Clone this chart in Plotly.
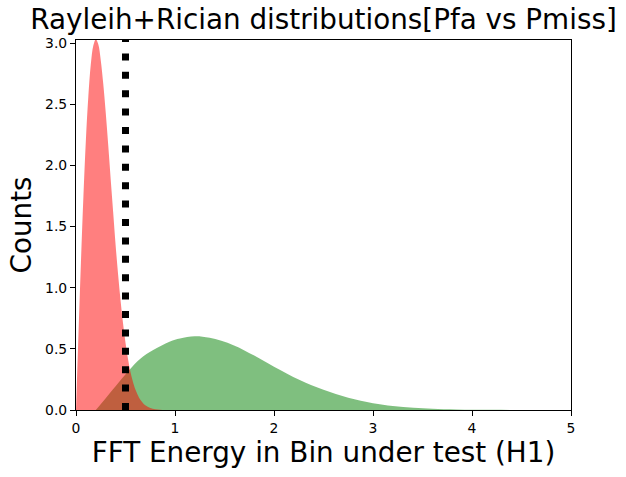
import plotly.graph_objects as go

# Rayleigh (H0) readings
rayleigh_x = [0.0, 0.025, 0.05, 0.075, 0.1, 0.125, 0.15, 0.175, 0.2, 0.225, 0.25, 0.275,
              0.3, 0.325, 0.35, 0.375, 0.4, 0.425, 0.45, 0.475, 0.5, 0.525, 0.55, 0.575,
              0.6, 0.65, 0.7, 0.75, 0.8, 0.85, 0.9, 1.0]
rayleigh_y = [0.0, 0.62, 1.21, 1.75, 2.21, 2.57, 2.83, 2.98, 3.03, 2.99, 2.86, 2.67,
              2.435, 2.17, 1.89, 1.62, 1.35, 1.11, 0.895, 0.71, 0.55, 0.42, 0.31, 0.23,
              0.167, 0.083, 0.038, 0.017, 0.007, 0.0025, 0.0009, 0.0001]

# Rician (H1) readings
rician_x = [0.2, 0.3, 0.4, 0.538, 0.65, 0.78, 0.95, 1.05, 1.2, 1.35, 1.59, 1.8, 2.0,
            2.26, 2.5, 2.75, 3.0, 3.2, 3.41, 3.6, 3.84, 4.2, 4.6, 5.0]
rician_y = [0.0, 0.097, 0.194, 0.327, 0.42, 0.49, 0.56, 0.585, 0.603, 0.59, 0.53, 0.445, 0.354,
            0.245, 0.165, 0.10, 0.055, 0.033, 0.019, 0.011, 0.005, 0.0015, 0.0003, 0.0]

threshold = 0.5
title_text = "Rayleih+Rician distributions[Pfa vs Pmiss]"
xlabel = "FFT Energy in Bin under test (H1)"
ylabel = "Counts"
x_ticks = [0, 1, 2, 3, 4, 5]
y_ticks = [0.0, 0.5, 1.0, 1.5, 2.0, 2.5, 3.0]

FONT = "DejaVu Sans"

fig = go.Figure()
fig.add_trace(go.Scatter(x=rician_x, y=rician_y, mode="lines", fill="tozeroy",
                         line=dict(width=0, shape="spline", color="rgba(0,128,0,0.5)"),
                         fillcolor="rgba(0,128,0,0.5)", showlegend=False, hoverinfo="skip"))
fig.add_trace(go.Scatter(x=rayleigh_x, y=rayleigh_y, mode="lines", fill="tozeroy",
                         line=dict(width=0, shape="spline", color="rgba(255,0,0,0.5)"),
                         fillcolor="rgba(255,0,0,0.5)", showlegend=False, hoverinfo="skip"))

fig.add_shape(type="line", xref="x", yref="y domain", x0=threshold, x1=threshold, y0=0, y1=1,
              line=dict(color="black", width=7, dash="7px,11.4px"), layer="above")

fig.update_layout(
    width=626, height=477,
    margin=dict(l=76, r=55, t=40, b=67),
    paper_bgcolor="white", plot_bgcolor="white",
    font=dict(family=FONT, color="black"),
    title=dict(text=title_text, font=dict(family=FONT, size=27.8, color="black"),
               x=(76 + 571) / 2 / 626, xanchor="center", xref="container",
               y=1 - 19.5 / 477, yanchor="middle", yref="container"),
    xaxis=dict(range=[0, 5], tickvals=x_ticks, ticktext=[str(t) for t in x_ticks],
               showgrid=False, zeroline=False, showline=True, linecolor="black", linewidth=1.1,
               mirror=True, ticks="outside", ticklen=5, tickwidth=1.1, tickcolor="black",
               tickfont=dict(family=FONT, size=13.9, color="black"),
               title=dict(text=xlabel, font=dict(family=FONT, size=27.8, color="black"), standoff=6)),
    yaxis=dict(range=[0, 3.025], tickvals=y_ticks, ticktext=["%.1f" % t for t in y_ticks],
               showgrid=False, zeroline=False, showline=True, linecolor="black", linewidth=1.1,
               mirror=True, ticks="outside", ticklen=5, tickwidth=1.1, tickcolor="black",
               tickfont=dict(family=FONT, size=13.9, color="black"),
               title=dict(text=ylabel, font=dict(family=FONT, size=27.8, color="black"), standoff=5)),
)

fig.write_html("out.html")
